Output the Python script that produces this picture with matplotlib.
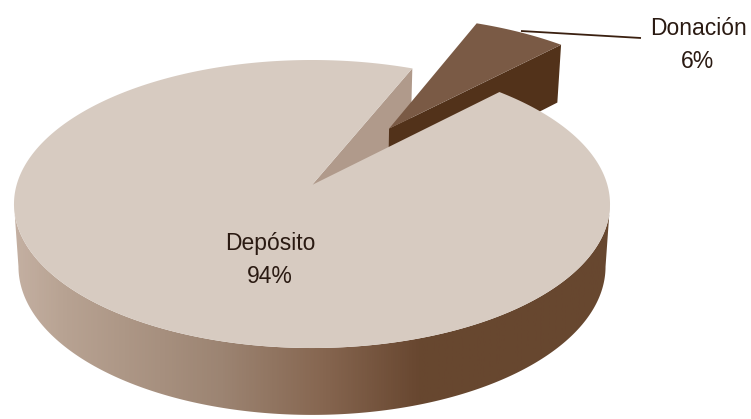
import numpy as np
import matplotlib
matplotlib.use("Agg")
import matplotlib.pyplot as plt
from matplotlib.colors import LinearSegmentedColormap
from matplotlib.patches import Polygon

# Shares of the pie
categories = ["Donación", "Depósito"]
shares = [6, 94]

# Pie geometry: perspective projection of the unit disc, in pixel units
START_ANGLE = 22.4   # first slice edge, degrees clockwise from north
CX, CY = 312.0, 185.0
A, B, P = 295.4, 141.5, 0.132
BOTTOM_SX, BOTTOM_SY, BOTTOM_CY = 0.985, 1.03, 247.0
EXPLODE = 0.503


def project(u, v, bottom=False):
    w = 1 + P * v
    x, y = A * u / w, B * v / w
    if bottom:
        return CX + BOTTOM_SX * x, BOTTOM_CY - BOTTOM_SY * y
    return CX + x, CY - y


def rim(a0, a1, n=240):
    t = np.radians(np.linspace(a0, a1, n))
    return np.sin(t), np.cos(t)


def pts(u, v, bottom=False):
    return np.column_stack(project(np.asarray(u), np.asarray(v), bottom))


fig = plt.figure(figsize=(7.51, 4.19), dpi=100)
ax = fig.add_axes([0, 0, 1, 1])
ax.set_xlim(0, 751)
ax.set_ylim(419, 0)
ax.axis("off")

sweep = [s / sum(shares) * 360 for s in shares]
don0, don1 = START_ANGLE, START_ANGLE + sweep[0]
dep0, dep1 = don1, don1 + sweep[1]

# Inner wall of the large slice, seen through the gap
wall = np.vstack([pts([0], [0]),
                  pts(*rim(dep1, dep1, 1)),
                  pts(*rim(dep1, dep1, 1), bottom=True),
                  pts([0], [0], bottom=True)])
ax.add_patch(Polygon(wall, closed=True, fc="#B09A8B", ec="none", zorder=1))

# Exploded slice: radial wall, then its top face
mid = np.radians((don0 + don1) / 2)
du, dv = EXPLODE * np.sin(mid), EXPLODE * np.cos(mid)
ue, ve = rim(don0, don1, 60)
ue, ve = ue + du, ve + dv
edge_side = np.vstack([pts([du], [dv]),
                       pts([ue[-1]], [ve[-1]]),
                       pts([ue[-1]], [ve[-1]], bottom=True),
                       pts([du], [dv], bottom=True)])
ax.add_patch(Polygon(edge_side, closed=True, fc="#52321A", ec="none", zorder=2))
top_don = np.vstack([pts([du], [dv]), pts(ue, ve)])
ax.add_patch(Polygon(top_don, closed=True, fc="#7A5A45", ec="none", zorder=3))

# Outer wall of the large slice with a horizontal shading
turn = np.degrees(np.arccos(-P))
wu, wv = rim(turn, 360 - turn)
outer = np.vstack([pts(wu, wv), pts(wu, wv, bottom=True)[::-1]])
outer_patch = Polygon(outer, closed=True, fc="none", ec="none", zorder=4)
ax.add_patch(outer_patch)
shade = LinearSegmentedColormap.from_list(
    "wall",
    [(0.00, "#C4B0A2"), (0.08, "#B8A393"), (0.35, "#9C8472"),
     (0.52, "#866650"), (0.68, "#684730"), (1.00, "#67472F")])
img = ax.imshow(np.linspace(0, 1, 600)[None, :], cmap=shade, aspect="auto",
                extent=(13, 610, 419, 0), zorder=4)
img.set_clip_path(outer_patch)
ax.set_xlim(0, 751)
ax.set_ylim(419, 0)

# Top face of the large slice
uf, vf = rim(dep0, dep1, 600)
top_dep = np.vstack([pts([0], [0]), pts(uf, vf)])
ax.add_patch(Polygon(top_dep, closed=True, fc="#D7CBC1", ec="none", zorder=5))

# Leader line and labels
ax.plot([521, 641], [31, 38], color="#3A2010", lw=1.3, zorder=6,
        solid_capstyle="butt")
font = dict(family=["Liberation Sans", "DejaVu Sans"],
            fontsize=16.5, color="#2A1A12", ha="center", va="center",
            linespacing=1.55, zorder=7)
ax.text(698, 45, f"{categories[0]}\n{shares[0]}%", **font)
ax.text(270, 260, f"{categories[1]}\n{shares[1]}%", **font)

fig.savefig("out.png", dpi=100, facecolor="white")
